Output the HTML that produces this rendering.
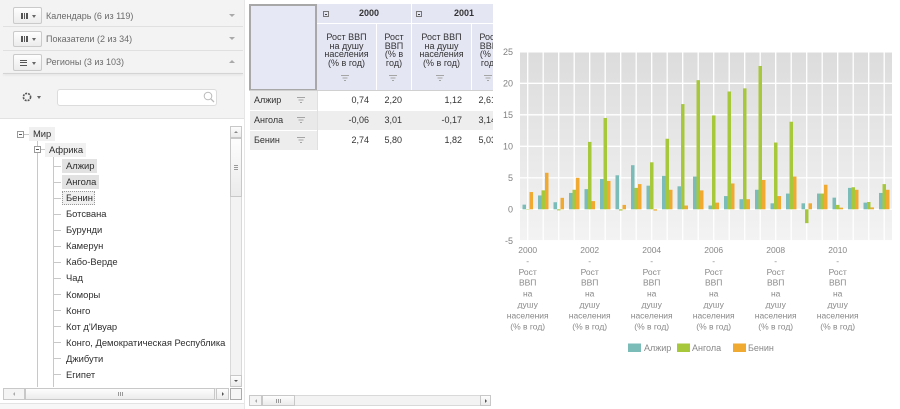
<!DOCTYPE html>
<html><head><meta charset="utf-8"><style>
*{margin:0;padding:0;box-sizing:border-box}
html,body{width:900px;height:409px;overflow:hidden;background:#fff}
body{position:relative;font-family:"Liberation Sans","DejaVu Sans",sans-serif;color:#333}
.a{position:absolute}
.btn{position:absolute;left:13px;width:29px;border:1px solid #cacaca;border-radius:2px;background:linear-gradient(#fefefe,#ececec)}
.vb{position:absolute;width:1.5px;height:6px;background:#555}
.hb{position:absolute;width:7px;height:1.3px;background:#555}
.car{position:absolute;width:0;height:0;border-left:2.5px solid transparent;border-right:2.5px solid transparent;border-top:3px solid #666}
.rcar{position:absolute;left:229px;width:0;height:0;border-left:3px solid transparent;border-right:3px solid transparent;border-top:3px solid #aaa}
.lbl{position:absolute;left:46px;font-size:9px;color:#6b6b6b;line-height:12px;white-space:nowrap}
.sep{position:absolute;left:3px;width:240px;height:1px;background:#e0e0e0}
.tr{position:absolute;left:66px;font-size:9.4px;line-height:12px;white-space:nowrap;color:#2e2e2e}
.conn{position:absolute;left:53px;width:8px;height:1px;background:#c8c8c8}
.sbt{position:absolute;background:linear-gradient(#fdfdfd,#ebebeb);border:1px solid #c8c8c8}
.tk{position:absolute;background:#f3f3f3;border:1px solid #d9d9d9}
.hc{position:absolute;background:#e4e6f4;font-size:9px;line-height:8.7px;text-align:center;color:#333}
.rh{position:absolute;left:1px;width:67px;height:19px;background:#ededed;font-size:9px;line-height:19px;padding-left:4px;color:#333}
.dc{position:absolute;height:19px;font-size:9px;line-height:19px;text-align:right;color:#333}
.fi{position:absolute}
</style></head><body>

<!-- LEFT PANEL -->
<div class="a" style="left:0;top:0;width:245px;height:118px;background:#f3f3f3"></div>
<div class="a" style="left:244px;top:0;width:1px;height:409px;background:#e6e6e6"></div>
<div class="sep" style="top:26px"></div>
<div class="sep" style="top:50px"></div>
<div class="a" style="left:3px;top:73px;width:240px;height:1px;background:#d4d4d4;box-shadow:0 1px 2px rgba(0,0,0,0.12)"></div>

<div class="btn" style="top:7px;height:17px">
  <div class="vb" style="left:7px;top:4.5px"></div><div class="vb" style="left:9.5px;top:4.5px"></div><div class="vb" style="left:12px;top:4.5px"></div>
  <div class="car" style="left:17.5px;top:6.5px"></div>
</div>
<div class="lbl" style="top:10px">Календарь (6 из 119)</div>
<div class="rcar" style="top:14px"></div>

<div class="btn" style="top:31px;height:16px">
  <div class="vb" style="left:7px;top:4px"></div><div class="vb" style="left:9.5px;top:4px"></div><div class="vb" style="left:12px;top:4px"></div>
  <div class="car" style="left:17.5px;top:6px"></div>
</div>
<div class="lbl" style="top:32.7px">Показатели (2 из 34)</div>
<div class="rcar" style="top:37px"></div>

<div class="btn" style="top:54px;height:17px">
  <div class="hb" style="left:6px;top:4.5px"></div><div class="hb" style="left:6px;top:7px"></div><div class="hb" style="left:6px;top:9.5px"></div>
  <div class="car" style="left:17.5px;top:6.5px"></div>
</div>
<div class="lbl" style="top:55.7px">Регионы (3 из 103)</div>
<div class="a" style="left:229px;top:60px;width:0;height:0;border-left:3px solid transparent;border-right:3px solid transparent;border-bottom:3px solid #aaa"></div>

<!-- search row -->
<svg class="a" style="left:21px;top:91px" width="12" height="12"><circle cx="6" cy="6" r="3.6" fill="none" stroke="#555" stroke-width="1.6" stroke-dasharray="2 1"/></svg>
<div class="car" style="left:37px;top:96px"></div>
<div class="a" style="left:57px;top:89px;width:160px;height:17px;background:#fff;border:1px solid #dcdcdc;border-radius:3px"></div>
<svg class="a" style="left:203px;top:91px" width="12" height="13"><circle cx="5" cy="5" r="3.8" fill="none" stroke="#bbb" stroke-width="1"/><line x1="7.8" y1="7.8" x2="11" y2="11" stroke="#bbb" stroke-width="1.3"/></svg>
<div class="a" style="left:0;top:118px;width:244px;height:1px;background:#e2e2e2"></div>

<!-- TREE -->
<div class="a" style="left:0;top:119px;width:244px;height:269px;overflow:hidden">
</div>
<div class="a" style="left:17px;top:131px;width:7px;height:7px;border:1px solid #9a9a9a;background:#fff"><div class="a" style="left:1px;top:2px;width:3px;height:1px;background:#555"></div></div>
<div class="a" style="left:24px;top:134px;width:5px;height:1px;background:#c8c8c8"></div>
<div class="a" style="left:29px;top:127px;width:26px;height:14px;background:#f0f0f0"></div>
<div class="tr" style="left:33px;top:128px">Мир</div>
<div class="a" style="left:37px;top:141px;width:1px;height:246px;background:#c8c8c8"></div>

<div class="a" style="left:34px;top:146px;width:7px;height:7px;border:1px solid #9a9a9a;background:#fff"><div class="a" style="left:1px;top:2px;width:3px;height:1px;background:#555"></div></div>
<div class="a" style="left:41px;top:149px;width:4px;height:1px;background:#c8c8c8"></div>
<div class="a" style="left:45px;top:143px;width:41px;height:14px;background:#f1f1f1"></div>
<div class="tr" style="left:49px;top:143.5px">Африка</div>
<div class="a" style="left:53px;top:157px;width:1px;height:230px;background:#c8c8c8"></div>

<div class="a" style="left:62px;top:159px;width:35px;height:14px;background:#e2e2e2"></div>
<div class="a" style="left:62px;top:175px;width:37px;height:14px;background:#e2e2e2"></div>
<div class="a" style="left:62px;top:191px;width:33px;height:14px;background:#f0f0f0;border:1px dotted #999"></div>

<div class="conn" style="top:166px"></div><div class="tr" style="top:159.7px">Алжир</div>
<div class="conn" style="top:182px"></div><div class="tr" style="top:175.8px">Ангола</div>
<div class="conn" style="top:198px"></div><div class="tr" style="top:191.9px">Бенин</div>
<div class="conn" style="top:214px"></div><div class="tr" style="top:208px">Ботсвана</div>
<div class="conn" style="top:230px"></div><div class="tr" style="top:224.1px">Бурунди</div>
<div class="conn" style="top:246px"></div><div class="tr" style="top:240.2px">Камерун</div>
<div class="conn" style="top:262px"></div><div class="tr" style="top:256.3px">Кабо-Верде</div>
<div class="conn" style="top:278px"></div><div class="tr" style="top:272.4px">Чад</div>
<div class="conn" style="top:294px"></div><div class="tr" style="top:288.5px">Коморы</div>
<div class="conn" style="top:310px"></div><div class="tr" style="top:304.6px">Конго</div>
<div class="conn" style="top:326px"></div><div class="tr" style="top:320.7px">Кот д'Ивуар</div>
<div class="conn" style="top:342px"></div><div class="tr" style="top:336.8px">Конго, Демократическая Республика</div>
<div class="conn" style="top:358px"></div><div class="tr" style="top:352.9px">Джибути</div>
<div class="conn" style="top:374px"></div><div class="tr" style="top:369px">Египет</div>

<!-- tree vertical scrollbar -->
<div class="tk" style="left:230px;top:126px;width:12px;height:261px"></div>
<div class="sbt" style="left:230px;top:126px;width:12px;height:12px"><div class="a" style="left:3px;top:4px;width:0;height:0;border-left:2px solid transparent;border-right:2px solid transparent;border-bottom:2.5px solid #888"></div></div>
<div class="sbt" style="left:230px;top:138px;width:12px;height:59px"><div class="a" style="left:3px;top:26px;width:4px;height:1px;background:#999;box-shadow:0 2px 0 #999,0 4px 0 #999"></div></div>
<div class="sbt" style="left:230px;top:375px;width:12px;height:12px"><div class="a" style="left:3px;top:4px;width:0;height:0;border-left:2px solid transparent;border-right:2px solid transparent;border-top:2.5px solid #555"></div></div>
<div class="a" style="left:230px;top:388px;width:12px;height:12px;border:1px solid #ababab;background:#f6f6f6"></div>
<!-- tree horizontal scrollbar -->
<div class="tk" style="left:3px;top:388px;width:226px;height:12px"></div>
<div class="sbt" style="left:3px;top:388px;width:22px;height:12px;background:#f4f4f4"><div class="a" style="left:9px;top:3px;width:0;height:0;border-top:2px solid transparent;border-bottom:2px solid transparent;border-right:2.5px solid #aaa"></div></div>
<div class="sbt" style="left:25px;top:388px;width:190px;height:12px"><div class="a" style="left:92px;top:3px;width:1px;height:4px;background:#999;box-shadow:2px 0 0 #999,4px 0 0 #999"></div></div>
<div class="sbt" style="left:216px;top:388px;width:13px;height:12px"><div class="a" style="left:5px;top:3px;width:0;height:0;border-top:2px solid transparent;border-bottom:2px solid transparent;border-left:2.5px solid #555"></div></div>
<div class="a" style="left:0;top:403px;width:244px;height:1px;background:#e3e3e3"></div>
<div class="a" style="left:0;top:404px;width:244px;height:5px;background:#f7f7f7"></div>

<!-- TABLE -->
<div class="a" style="left:249px;top:0;width:244px;height:160px;overflow:hidden">
  <div class="a" style="left:0;top:4px;width:68px;height:87px;background:#e6e8f6;border:2px solid #a8a8a8"></div>
  <div class="hc" style="left:68px;top:4px;width:94px;height:19px"></div>
  <div class="hc" style="left:163px;top:4px;width:100px;height:19px"></div>
  <div class="a" style="left:74px;top:11px;width:6px;height:6px;border:1px solid #777"><div class="a" style="left:1px;top:1.5px;width:2px;height:1px;background:#444"></div></div>
  <div class="a" style="left:110px;top:8px;font-size:9px;font-weight:bold;line-height:11px;color:#333">2000</div>
  <div class="a" style="left:167px;top:11px;width:6px;height:6px;border:1px solid #777"><div class="a" style="left:1px;top:1.5px;width:2px;height:1px;background:#444"></div></div>
  <div class="a" style="left:205px;top:8px;font-size:9px;font-weight:bold;line-height:11px;color:#333">2001</div>

  <div class="hc" style="left:68px;top:24px;width:59px;height:66px;padding-top:9px">Рост ВВП<br>на душу<br>населения<br>(% в год)</div>
  <div class="hc" style="left:128px;top:24px;width:34px;height:66px;padding-top:9px">Рост<br>ВВП<br>(% в<br>год)</div>
  <div class="hc" style="left:163px;top:24px;width:59px;height:66px;padding-top:9px">Рост ВВП<br>на душу<br>населения<br>(% в год)</div>
  <div class="hc" style="left:223px;top:24px;width:34px;height:66px;padding-top:9px">Рост<br>ВВП<br>(% в<br>год)</div>
  <svg class="fi" style="left:92px;top:75px" width="8" height="7"><path d="M0 0.5H8M1.5 3H6.5M3 5.5H5" stroke="#a5a5a5" stroke-width="1"/></svg>
  <svg class="fi" style="left:140px;top:75px" width="8" height="7"><path d="M0 0.5H8M1.5 3H6.5M3 5.5H5" stroke="#a5a5a5" stroke-width="1"/></svg>
  <svg class="fi" style="left:187px;top:75px" width="8" height="7"><path d="M0 0.5H8M1.5 3H6.5M3 5.5H5" stroke="#a5a5a5" stroke-width="1"/></svg>
  <svg class="fi" style="left:235px;top:75px" width="8" height="7"><path d="M0 0.5H8M1.5 3H6.5M3 5.5H5" stroke="#a5a5a5" stroke-width="1"/></svg>
  <div class="a" style="left:0;top:90px;width:244px;height:1px;background:#d0d0d0"></div>

  <div class="a" style="left:68px;top:111px;width:176px;height:19px;background:#eeeeee"></div>
  <div class="a" style="left:68px;top:91px;width:1px;height:59px;background:#e0e0e0"></div>

  <div class="rh" style="top:91px">Алжир</div>
  <div class="rh" style="top:111px;background:#e9e9e9">Ангола</div>
  <div class="rh" style="top:131px">Бенин</div>
  <svg class="fi" style="left:48px;top:97px" width="8" height="7"><path d="M0 0.5H8M1.5 3H6.5M3 5.5H5" stroke="#a5a5a5" stroke-width="1"/></svg>
  <svg class="fi" style="left:48px;top:117px" width="8" height="7"><path d="M0 0.5H8M1.5 3H6.5M3 5.5H5" stroke="#a5a5a5" stroke-width="1"/></svg>
  <svg class="fi" style="left:48px;top:137px" width="8" height="7"><path d="M0 0.5H8M1.5 3H6.5M3 5.5H5" stroke="#a5a5a5" stroke-width="1"/></svg>

  <div class="dc" style="left:68px;top:91px;width:52px">0,74</div>
  <div class="dc" style="left:128px;top:91px;width:25px">2,20</div>
  <div class="dc" style="left:163px;top:91px;width:50px">1,12</div>
  <div class="dc" style="left:223px;top:91px;width:24px">2,61</div>
  <div class="dc" style="left:68px;top:111px;width:52px">-0,06</div>
  <div class="dc" style="left:128px;top:111px;width:25px">3,01</div>
  <div class="dc" style="left:163px;top:111px;width:50px">-0,17</div>
  <div class="dc" style="left:223px;top:111px;width:24px">3,14</div>
  <div class="dc" style="left:68px;top:131px;width:52px">2,74</div>
  <div class="dc" style="left:128px;top:131px;width:25px">5,80</div>
  <div class="dc" style="left:163px;top:131px;width:50px">1,82</div>
  <div class="dc" style="left:223px;top:131px;width:24px">5,03</div>
</div>

<!-- table horizontal scrollbar -->
<div class="tk" style="left:249px;top:395px;width:242px;height:11px"></div>
<div class="sbt" style="left:249px;top:395px;width:13px;height:11px;background:#f4f4f4"><div class="a" style="left:5px;top:3px;width:0;height:0;border-top:2px solid transparent;border-bottom:2px solid transparent;border-right:2.5px solid #aaa"></div></div>
<div class="sbt" style="left:262px;top:395px;width:33px;height:11px"><div class="a" style="left:13px;top:3px;width:1px;height:4px;background:#999;box-shadow:2px 0 0 #999,4px 0 0 #999"></div></div>
<div class="sbt" style="left:480px;top:395px;width:11px;height:11px"><div class="a" style="left:4px;top:3px;width:0;height:0;border-top:2px solid transparent;border-bottom:2px solid transparent;border-left:2.5px solid #555"></div></div>

<!-- CHART -->
<svg class="a" style="left:495px;top:0" width="405" height="409" viewBox="495 0 405 409" font-family="Liberation Sans, DejaVu Sans, sans-serif">
  <defs>
    <linearGradient id="bg" x1="0" y1="0" x2="0" y2="1">
      <stop offset="0" stop-color="#dcdcdc"/>
      <stop offset="1" stop-color="#f3f3f3"/>
    </linearGradient>
  </defs>
  <rect x="520" y="51.8" width="372" height="189" fill="url(#bg)"/>
  <g stroke="#ffffff" stroke-width="1.3">
    <line x1="520" x2="892" y1="51.8" y2="51.8"/>
    <line x1="520" x2="892" y1="83.3" y2="83.3"/>
    <line x1="520" x2="892" y1="114.8" y2="114.8"/>
    <line x1="520" x2="892" y1="146.3" y2="146.3"/>
    <line x1="520" x2="892" y1="177.8" y2="177.8"/>
    <line x1="520" x2="892" y1="209.3" y2="209.3"/>
    <line x1="520" x2="892" y1="240.8" y2="240.8"/>
    <line x1="527.7" x2="527.7" y1="51.8" y2="240.8"/>
    <line x1="543.2" x2="543.2" y1="51.8" y2="240.8"/>
    <line x1="558.7" x2="558.7" y1="51.8" y2="240.8"/>
    <line x1="574.2" x2="574.2" y1="51.8" y2="240.8"/>
    <line x1="589.7" x2="589.7" y1="51.8" y2="240.8"/>
    <line x1="605.2" x2="605.2" y1="51.8" y2="240.8"/>
    <line x1="620.7" x2="620.7" y1="51.8" y2="240.8"/>
    <line x1="636.2" x2="636.2" y1="51.8" y2="240.8"/>
    <line x1="651.7" x2="651.7" y1="51.8" y2="240.8"/>
    <line x1="667.2" x2="667.2" y1="51.8" y2="240.8"/>
    <line x1="682.7" x2="682.7" y1="51.8" y2="240.8"/>
    <line x1="698.2" x2="698.2" y1="51.8" y2="240.8"/>
    <line x1="713.7" x2="713.7" y1="51.8" y2="240.8"/>
    <line x1="729.2" x2="729.2" y1="51.8" y2="240.8"/>
    <line x1="744.7" x2="744.7" y1="51.8" y2="240.8"/>
    <line x1="760.2" x2="760.2" y1="51.8" y2="240.8"/>
    <line x1="775.7" x2="775.7" y1="51.8" y2="240.8"/>
    <line x1="791.2" x2="791.2" y1="51.8" y2="240.8"/>
    <line x1="806.7" x2="806.7" y1="51.8" y2="240.8"/>
    <line x1="822.2" x2="822.2" y1="51.8" y2="240.8"/>
    <line x1="837.7" x2="837.7" y1="51.8" y2="240.8"/>
    <line x1="853.2" x2="853.2" y1="51.8" y2="240.8"/>
    <line x1="868.7" x2="868.7" y1="51.8" y2="240.8"/>
    <line x1="884.2" x2="884.2" y1="51.8" y2="240.8"/>
  </g>
  <g font-size="9" fill="#808080" text-anchor="end">
    <text x="513" y="55">25</text>
    <text x="513" y="86.5">20</text>
    <text x="513" y="118">15</text>
    <text x="513" y="149.5">10</text>
    <text x="513" y="181">5</text>
    <text x="513" y="212.5">0</text>
    <text x="513" y="244">-5</text>
  </g>
  <g transform="translate(0 209.3) scale(1 -6.3)">
    <g fill="#7bbcb8">
      <rect x="522.5" y="0" width="3.5" height="0.74"/>
      <rect x="538.0" y="0" width="3.5" height="2.20"/>
      <rect x="553.5" y="0" width="3.5" height="1.12"/>
      <rect x="569.0" y="0" width="3.5" height="2.6"/>
      <rect x="584.5" y="0" width="3.5" height="3.2"/>
      <rect x="600.0" y="0" width="3.5" height="4.8"/>
      <rect x="615.5" y="0" width="3.5" height="5.4"/>
      <rect x="631.0" y="0" width="3.5" height="7.0"/>
      <rect x="646.5" y="0" width="3.5" height="3.75"/>
      <rect x="662.0" y="0" width="3.5" height="5.3"/>
      <rect x="677.5" y="0" width="3.5" height="3.65"/>
      <rect x="693.0" y="0" width="3.5" height="5.2"/>
      <rect x="708.5" y="0" width="3.5" height="0.6"/>
      <rect x="724.0" y="0" width="3.5" height="2.1"/>
      <rect x="739.5" y="0" width="3.5" height="1.6"/>
      <rect x="755.0" y="0" width="3.5" height="3.1"/>
      <rect x="770.5" y="0" width="3.5" height="0.95"/>
      <rect x="786.0" y="0" width="3.5" height="2.5"/>
      <rect x="801.5" y="0" width="3.5" height="0.95"/>
      <rect x="817.0" y="0" width="3.5" height="2.5"/>
      <rect x="832.5" y="0" width="3.5" height="1.85"/>
      <rect x="848.0" y="0" width="3.5" height="3.4"/>
      <rect x="863.5" y="0" width="3.5" height="1.06"/>
      <rect x="879.0" y="0" width="3.5" height="2.6"/>
    </g>
    <g fill="#a8c83c">
      <rect x="526.0" y="-0.06" width="3.5" height="0.06"/>
      <rect x="541.5" y="0" width="3.5" height="3.01"/>
      <rect x="557.0" y="-0.17" width="3.5" height="0.17"/>
      <rect x="572.5" y="0" width="3.5" height="3.1"/>
      <rect x="588.0" y="0" width="3.5" height="10.7"/>
      <rect x="603.5" y="0" width="3.5" height="14.5"/>
      <rect x="619.0" y="-0.2" width="3.5" height="0.2"/>
      <rect x="634.5" y="0" width="3.5" height="3.4"/>
      <rect x="650.0" y="0" width="3.5" height="7.46"/>
      <rect x="665.5" y="0" width="3.5" height="11.2"/>
      <rect x="681.0" y="0" width="3.5" height="16.7"/>
      <rect x="696.5" y="0" width="3.5" height="20.5"/>
      <rect x="712.0" y="0" width="3.5" height="14.9"/>
      <rect x="727.5" y="0" width="3.5" height="18.7"/>
      <rect x="743.0" y="0" width="3.5" height="19.2"/>
      <rect x="758.5" y="0" width="3.5" height="22.75"/>
      <rect x="774.0" y="0" width="3.5" height="10.6"/>
      <rect x="789.5" y="0" width="3.5" height="13.9"/>
      <rect x="805.0" y="-2.2" width="3.5" height="2.2"/>
      <rect x="820.5" y="0" width="3.5" height="2.5"/>
      <rect x="836.0" y="0" width="3.5" height="0.7"/>
      <rect x="851.5" y="0" width="3.5" height="3.5"/>
      <rect x="867.0" y="0" width="3.5" height="1.16"/>
      <rect x="882.5" y="0" width="3.5" height="4.0"/>
    </g>
    <g fill="#f0aa32">
      <rect x="529.5" y="0" width="3.5" height="2.74"/>
      <rect x="545.0" y="0" width="3.5" height="5.80"/>
      <rect x="560.5" y="0" width="3.5" height="1.82"/>
      <rect x="576.0" y="0" width="3.5" height="5.0"/>
      <rect x="591.5" y="0" width="3.5" height="1.3"/>
      <rect x="607.0" y="0" width="3.5" height="4.5"/>
      <rect x="622.5" y="0" width="3.5" height="0.7"/>
      <rect x="638.0" y="0" width="3.5" height="4.0"/>
      <rect x="653.5" y="-0.2" width="3.5" height="0.2"/>
      <rect x="669.0" y="0" width="3.5" height="3.1"/>
      <rect x="684.5" y="0" width="3.5" height="0.6"/>
      <rect x="700.0" y="0" width="3.5" height="3.0"/>
      <rect x="715.5" y="0" width="3.5" height="1.06"/>
      <rect x="731.0" y="0" width="3.5" height="4.1"/>
      <rect x="746.5" y="0" width="3.5" height="1.6"/>
      <rect x="762.0" y="0" width="3.5" height="4.65"/>
      <rect x="777.5" y="0" width="3.5" height="2.1"/>
      <rect x="793.0" y="0" width="3.5" height="5.2"/>
      <rect x="808.5" y="0" width="3.5" height="0.95"/>
      <rect x="824.0" y="0" width="3.5" height="3.9"/>
      <rect x="839.5" y="0" width="3.5" height="0.26"/>
      <rect x="855.0" y="0" width="3.5" height="3.1"/>
      <rect x="870.5" y="0" width="3.5" height="0.3"/>
      <rect x="886.0" y="0" width="3.5" height="3.1"/>
    </g>
  </g>
  <g font-size="8.5" fill="#888888" text-anchor="middle">
    <text x="527.7" y="253"><tspan x="527.7">2000</tspan><tspan x="527.7" dy="10.9">-</tspan><tspan x="527.7" dy="10.9">Рост</tspan><tspan x="527.7" dy="10.9">ВВП</tspan><tspan x="527.7" dy="10.9">на</tspan><tspan x="527.7" dy="10.9">душу</tspan><tspan x="527.7" dy="10.9">населения</tspan><tspan x="527.7" dy="10.9">(% в год)</tspan></text>
    <text x="589.7" y="253"><tspan x="589.7">2002</tspan><tspan x="589.7" dy="10.9">-</tspan><tspan x="589.7" dy="10.9">Рост</tspan><tspan x="589.7" dy="10.9">ВВП</tspan><tspan x="589.7" dy="10.9">на</tspan><tspan x="589.7" dy="10.9">душу</tspan><tspan x="589.7" dy="10.9">населения</tspan><tspan x="589.7" dy="10.9">(% в год)</tspan></text>
    <text x="651.7" y="253"><tspan x="651.7">2004</tspan><tspan x="651.7" dy="10.9">-</tspan><tspan x="651.7" dy="10.9">Рост</tspan><tspan x="651.7" dy="10.9">ВВП</tspan><tspan x="651.7" dy="10.9">на</tspan><tspan x="651.7" dy="10.9">душу</tspan><tspan x="651.7" dy="10.9">населения</tspan><tspan x="651.7" dy="10.9">(% в год)</tspan></text>
    <text x="713.7" y="253"><tspan x="713.7">2006</tspan><tspan x="713.7" dy="10.9">-</tspan><tspan x="713.7" dy="10.9">Рост</tspan><tspan x="713.7" dy="10.9">ВВП</tspan><tspan x="713.7" dy="10.9">на</tspan><tspan x="713.7" dy="10.9">душу</tspan><tspan x="713.7" dy="10.9">населения</tspan><tspan x="713.7" dy="10.9">(% в год)</tspan></text>
    <text x="775.7" y="253"><tspan x="775.7">2008</tspan><tspan x="775.7" dy="10.9">-</tspan><tspan x="775.7" dy="10.9">Рост</tspan><tspan x="775.7" dy="10.9">ВВП</tspan><tspan x="775.7" dy="10.9">на</tspan><tspan x="775.7" dy="10.9">душу</tspan><tspan x="775.7" dy="10.9">населения</tspan><tspan x="775.7" dy="10.9">(% в год)</tspan></text>
    <text x="837.7" y="253"><tspan x="837.7">2010</tspan><tspan x="837.7" dy="10.9">-</tspan><tspan x="837.7" dy="10.9">Рост</tspan><tspan x="837.7" dy="10.9">ВВП</tspan><tspan x="837.7" dy="10.9">на</tspan><tspan x="837.7" dy="10.9">душу</tspan><tspan x="837.7" dy="10.9">населения</tspan><tspan x="837.7" dy="10.9">(% в год)</tspan></text>
  </g>
  <rect x="628" y="343.5" width="13" height="8.5" fill="#7bbcb8"/>
  <text x="644" y="351" font-size="9" fill="#888">Алжир</text>
  <rect x="677" y="343.5" width="13" height="8.5" fill="#a8c83c"/>
  <text x="692" y="351" font-size="9" fill="#888">Ангола</text>
  <rect x="733" y="343.5" width="13" height="8.5" fill="#f0aa32"/>
  <text x="748" y="351" font-size="9" fill="#888">Бенин</text>
</svg>
</body></html>
